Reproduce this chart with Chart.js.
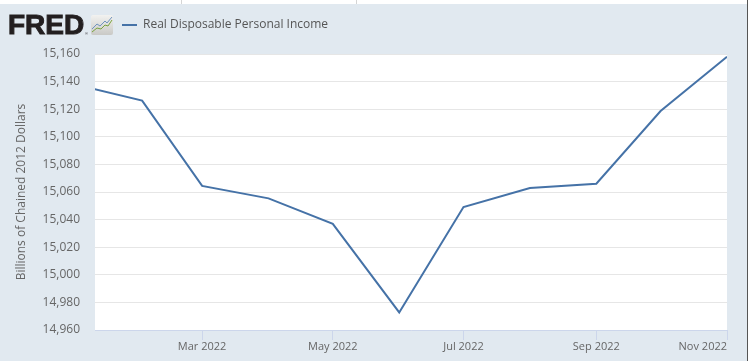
<!DOCTYPE html>
<html>
<head>
<meta charset="utf-8">
<title>FRED</title>
<script src="https://cdn.jsdelivr.net/npm/chart.js@4"></script>
<style>
  html, body { margin: 0; padding: 0; background: #fff; overflow: hidden; }
  #page { position: relative; width: 749px; height: 361px; }
  .topline { position: absolute; top: 0; width: 1px; height: 4px; background: #d5d5d5; }
  #panel { position: absolute; left: 0; top: 4px; width: 747px; height: 357px; background: #e1e9f0; }
  #edge { position: absolute; left: 747px; top: 0; width: 1px; height: 361px; background: #555; }
  #logo { position: absolute; left: 8px; top: 8px; font: bold 28px/34px "Liberation Sans", sans-serif; color: #231f20;
          -webkit-text-stroke: 1px #231f20; }
  #reg { position: absolute; left: 85px; top: 31px; font: 4px/5px "Liberation Sans", sans-serif; color: #231f20; }
  #icon { position: absolute; left: 91px; top: 15px; }
  canvas { position: absolute; left: 0; top: 0; }
</style>
</head>
<body>
<div id="page">
  <div class="topline" style="left:181px"></div>
  <div class="topline" style="left:356px"></div>
  <div id="panel"><canvas id="chart" width="747" height="357"></canvas></div>
  <div id="edge"></div>
  <div id="logo">FRED</div>
  <div id="reg">®</div>
  <svg id="icon" width="22" height="20" viewBox="0 0 22 20">
    <defs><linearGradient id="g" x1="0" y1="0" x2="0" y2="1"><stop offset="0" stop-color="#f2f2f0"/><stop offset="1" stop-color="#c9c9c6"/></linearGradient></defs>
    <rect width="22" height="20" rx="2" fill="url(#g)"/>
    <polyline points="1,14 6,9 9,11 14,6 16,8 21,2" fill="none" stroke="#6f93bd" stroke-width="1"/>
    <polyline points="1,17 6,13 10,14 14,10 17,11 21,5" fill="none" stroke="#7aa33f" stroke-width="1"/>
  </svg>
</div>
<script>
  // monthly observations, x is the first of the month
  const months = ['2022-01-01','2022-02-01','2022-03-01','2022-04-01','2022-05-01','2022-06-01',
                  '2022-07-01','2022-08-01','2022-09-01','2022-10-01','2022-11-01'];
  const income = [15137.9, 15126.2, 15064.4, 15055.4, 15036.9, 14972.7, 15049.1, 15062.9, 15066, 15118.7, 15158];
  const seriesName = 'Real Disposable Personal Income';
  const yTitle = 'Billions of Chained 2012 Dollars';
  const yTicks = [14960, 14980, 15000, 15020, 15040, 15060, 15080, 15100, 15120, 15140, 15160];
  const xTickDates = ['2022-03-01','2022-05-01','2022-07-01','2022-09-01','2022-11-01'];
  const xTickLabels = ['Mar 2022','May 2022','Jul 2022','Sep 2022','Nov 2022'];
  const xStart = '2022-01-10';

  const ms = d => Date.parse(d + 'T00:00:00Z');
  const textColor = '#666666';
  const fontFamily = '"Open Sans", sans-serif';

  // move the built-in legend next to the logo
  const legendShift = {
    id: 'legendShift',
    afterLayout(chart) {
      chart.legend.left = 122;
      chart.legend.top = 15;
    }
  };

  new Chart(document.getElementById('chart'), {
    type: 'line',
    data: {
      datasets: [{
        label: seriesName,
        data: months.map((m, i) => ({ x: ms(m), y: income[i] })),
        borderColor: '#4572a7',
        backgroundColor: '#4572a7',
        borderWidth: 2,
        pointRadius: 0,
        tension: 0
      }]
    },
    options: {
      responsive: false,
      animation: false,
      layout: { padding: { top: 28, right: 20, left: 0, bottom: 0 } },
      plugins: {
        tooltip: { enabled: false },
        legend: {
          position: 'top',
          align: 'start',
          labels: {
            font: { family: fontFamily, size: 12, weight: '400' },
            color: '#555555',
            boxWidth: 15,
            boxHeight: 0,
            padding: 0
          }
        }
      },
      scales: {
        x: {
          type: 'linear',
          min: ms(xStart),
          max: ms('2022-11-01'),
          afterBuildTicks: axis => { axis.ticks = xTickDates.map(d => ({ value: ms(d) })); },
          afterFit: axis => {
            axis.height = 31;
            axis.paddingRight = 0;
            // last label ends at the plot edge instead of centring on its tick
            if (!axis._rightAligned) {
              const compute = axis._computeLabelItems.bind(axis);
              axis._computeLabelItems = area => {
                const items = compute(area);
                items[items.length - 1].options.textAlign = 'right';
                return items;
              };
              axis._rightAligned = true;
            }
          },
          grid: { drawOnChartArea: false, drawTicks: true, tickLength: 10, tickColor: '#ccd6eb' },
          border: { color: '#ccd6eb', width: 1 },
          ticks: {
            autoSkip: false,
            maxRotation: 0,
            padding: 0,
            color: textColor,
            font: { family: fontFamily, size: 11 },
            callback: (v) => xTickLabels[xTickDates.findIndex(d => ms(d) === v)]
          }
        },
        y: {
          min: 14960,
          max: 15160,
          afterBuildTicks: axis => { axis.ticks = yTicks.map(v => ({ value: v })); },
          afterFit: axis => { axis.width = 95; },
          grid: { color: '#e6e6e6', drawTicks: false },
          border: { display: false },
          title: {
            display: true,
            text: yTitle,
            color: textColor,
            font: { family: fontFamily, size: 12 },
            padding: { top: 14, bottom: 0 }
          },
          ticks: {
            padding: 15,
            color: textColor,
            font: { family: fontFamily, size: 12 },
            callback: v => v.toLocaleString('en-US')
          }
        }
      }
    },
    plugins: [legendShift, {
      id: 'plotBg',
      beforeDraw(chart) {
        const a = chart.chartArea;
        chart.ctx.fillStyle = '#fff';
        chart.ctx.fillRect(a.left, a.top, a.width, a.height);
      }
    }]
  });
</script>
</body>
</html>
